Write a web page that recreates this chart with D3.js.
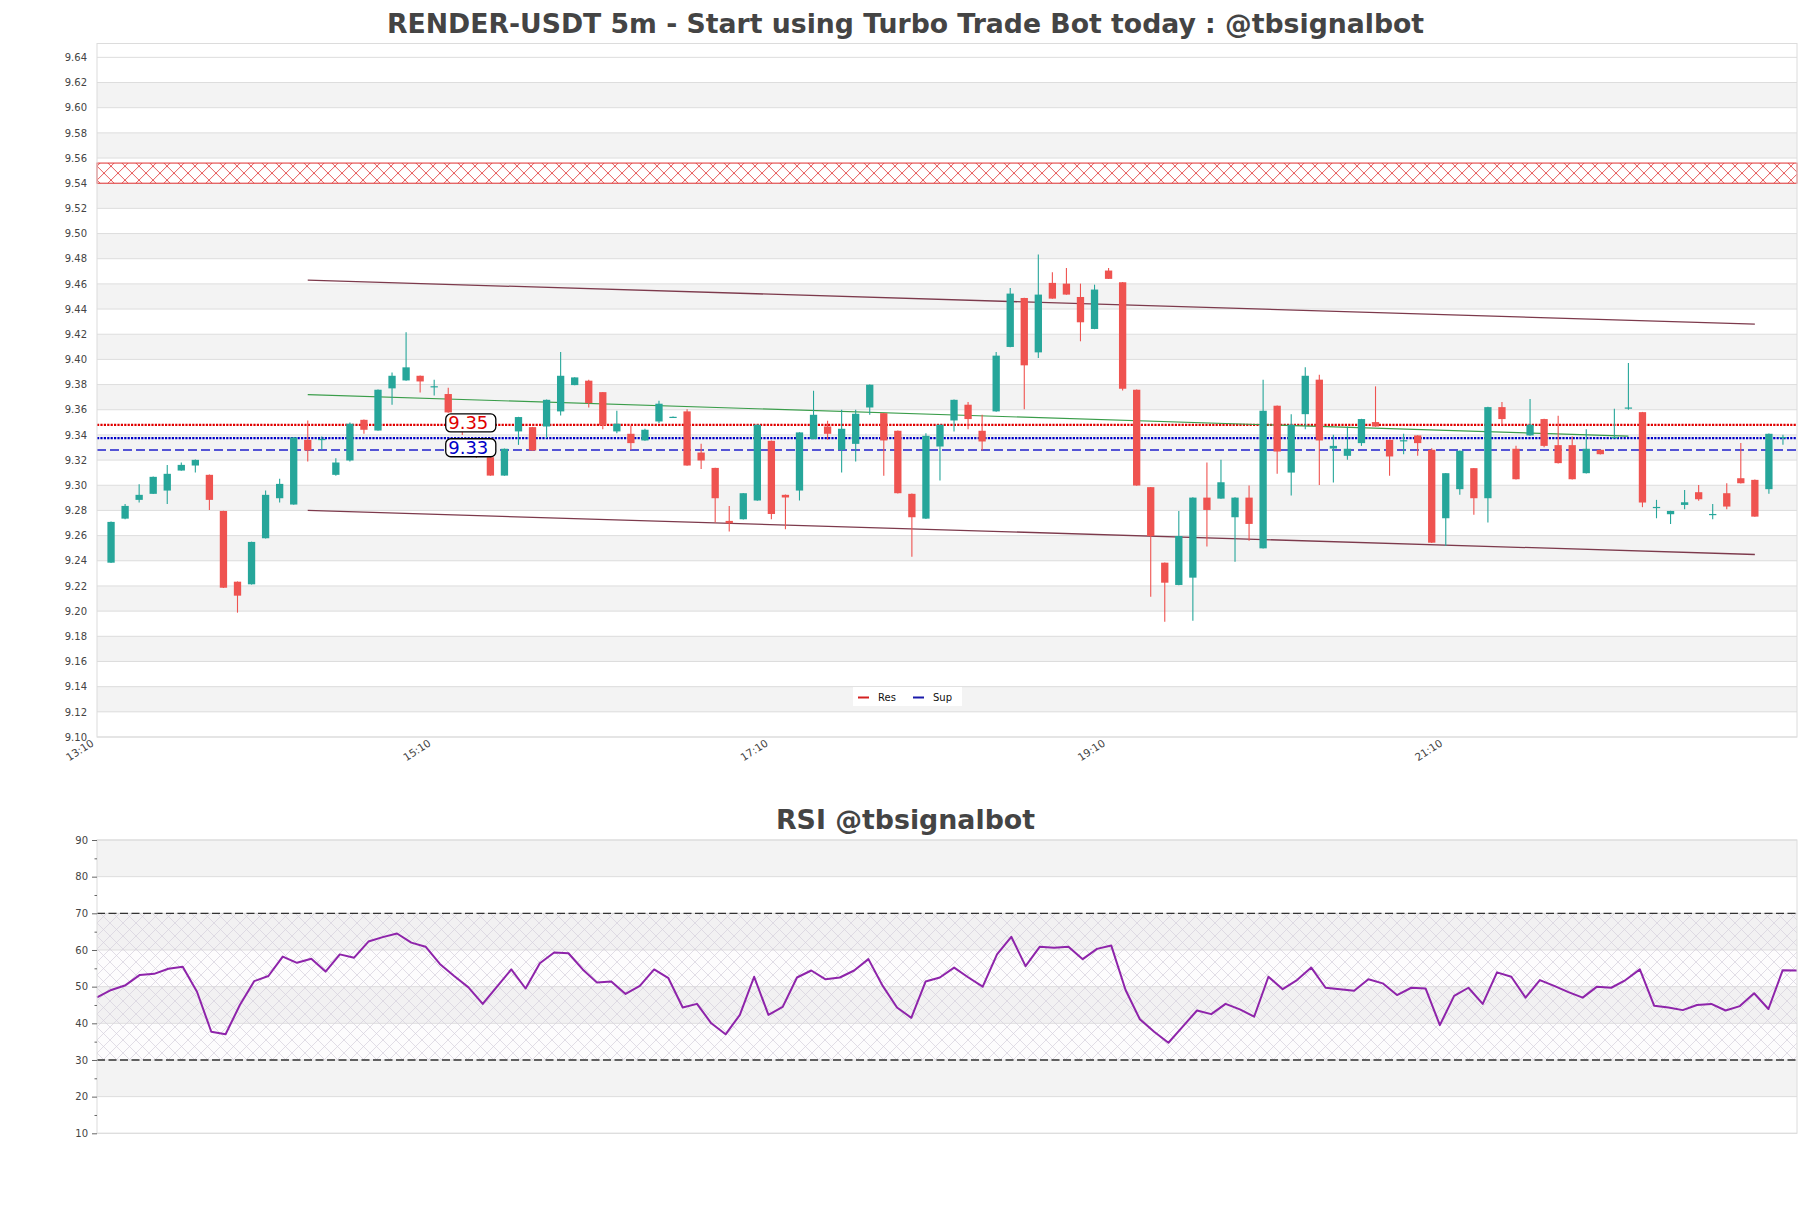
<!DOCTYPE html>
<html><head><meta charset="utf-8">
<script src="https://cdn.jsdelivr.net/npm/d3@7"></script>
<style>body{margin:0;background:#fff;} svg{display:block;font-family:"DejaVu Sans",sans-serif;}</style>
</head><body><svg id="c" width="1811" height="1208"></svg>
<script>
// ---------- DATA ----------
const opens = [9.2385,9.2735,9.2884,9.2932,9.2958,9.3117,9.3157,9.3083,9.2796,9.2234,
9.2213,9.2579,9.2897,9.2847,9.3361,9.3360,9.3083,9.3197,9.3520,9.3435,
9.3770,9.3833,9.3870,9.3780,9.3725,9.3500,9.3300,9.3223,9.3077,9.3428,
9.3462,9.3467,9.3587,9.3796,9.3831,9.3740,9.3428,9.3409,9.3356,9.3507,
9.3541,9.3587,9.3260,9.3138,9.2717,9.2730,9.2879,9.3353,9.2924,9.2958,
9.3367,9.3467,9.3282,9.3329,9.3618,9.3573,9.3433,9.2932,9.2735,9.3308,
9.3515,9.3640,9.3433,9.3587,9.4099,9.4488,9.4056,9.4608,9.4602,9.4496,
9.4242,9.4706,9.4613,9.3759,9.2985,9.2385,9.2208,9.2266,9.2902,9.2894,
9.2746,9.2902,9.2499,9.3632,9.3101,9.3565,9.3839,9.3292,9.3234,9.3335,
9.3502,9.3361,9.3353,9.3396,9.3282,9.2738,9.2969,9.3136,9.2897,9.3621,
9.3290,9.3396,9.3526,9.3319,9.3319,9.3096,9.3282,9.3378,9.3614,9.3581,
9.2822,9.2770,9.2844,9.2945,9.2767,9.2937,9.3056,9.3043,9.2969,9.3378];
const highs = [9.2712,9.2852,9.3009,9.3070,9.3162,9.3181,9.3204,9.3085,9.2798,9.2236,
9.2552,9.2958,9.3051,9.3382,9.3515,9.3388,9.3215,9.3499,9.3522,9.3761,
9.3897,9.4215,9.3872,9.3839,9.3775,9.3540,9.3330,9.3225,9.3292,9.3544,
9.3464,9.3681,9.4059,9.3859,9.3839,9.3742,9.3592,9.3473,9.3449,9.3672,
9.3546,9.3605,9.3329,9.3140,9.2836,9.2939,9.3483,9.3355,9.2926,9.3422,
9.3751,9.3512,9.3600,9.3600,9.3801,9.3575,9.3435,9.2934,9.3414,9.3483,
9.3681,9.3661,9.3560,9.4059,9.4568,9.4490,9.4833,9.4693,9.4727,9.4602,
9.4594,9.4727,9.4615,9.3761,9.2987,9.2387,9.2796,9.2904,9.3181,9.3202,
9.2904,9.2998,9.3839,9.3634,9.3565,9.3937,9.3878,9.3401,9.3467,9.3528,
9.3786,9.3363,9.3409,9.3398,9.3295,9.3098,9.3276,9.3138,9.3623,9.3661,
9.3314,9.3685,9.3528,9.3552,9.3388,9.3446,9.3284,9.3608,9.3971,9.3583,
9.2884,9.2798,9.2963,9.3003,9.2852,9.3016,9.3335,9.3045,9.3411,9.3401];
const lows = [9.2383,9.2730,9.2863,9.2930,9.2852,9.3115,9.3101,9.2804,9.2184,9.1988,
9.2211,9.2577,9.2863,9.2845,9.3189,9.3283,9.3075,9.3189,9.3409,9.3433,
9.3640,9.3831,9.3738,9.3714,9.3577,9.3400,9.3216,9.3075,9.3075,9.3321,
9.3274,9.3374,9.3555,9.3794,9.3618,9.3446,9.3414,9.3282,9.3354,9.3494,
9.3539,9.3155,9.3130,9.2704,9.2632,9.2728,9.2877,9.2730,9.2651,9.2879,
9.3365,9.3361,9.3101,9.3189,9.3560,9.3075,9.2935,9.2433,9.2733,9.3038,
9.3428,9.3446,9.3276,9.3585,9.4097,9.3605,9.4011,9.4481,9.4513,9.4144,
9.4240,9.4638,9.3754,9.2996,9.2115,9.1916,9.2206,9.1924,9.2513,9.2892,
9.2393,9.2560,9.2497,9.3091,9.2918,9.3446,9.3003,9.3022,9.3202,9.3313,
9.3465,9.3075,9.3247,9.3234,9.2542,9.2518,9.2924,9.2765,9.2704,9.3481,
9.3046,9.3394,9.3303,9.3174,9.3046,9.3094,9.3245,9.3375,9.3600,9.2826,
9.2738,9.2693,9.2810,9.2878,9.2730,9.2810,9.3014,9.2749,9.2932,9.3321];
const closes = [9.2709,9.2836,9.2924,9.3067,9.3091,9.3162,9.3202,9.2884,9.2186,9.2123,
9.2550,9.2924,9.3011,9.3380,9.3276,9.3368,9.3181,9.3489,9.3441,9.3759,
9.3870,9.3937,9.3825,9.3787,9.3579,9.3440,9.3260,9.3077,9.3290,9.3542,
9.3276,9.3679,9.3870,9.3857,9.3653,9.3475,9.3489,9.3335,9.3441,9.3648,
9.3544,9.3157,9.3197,9.2897,9.2698,9.2937,9.3481,9.2772,9.2903,9.3420,
9.3560,9.3409,9.3449,9.3568,9.3799,9.3356,9.2937,9.2746,9.3393,9.3481,
9.3679,9.3526,9.3348,9.4030,9.4523,9.3953,9.4515,9.4483,9.4515,9.4295,
9.4555,9.4640,9.3767,9.2998,9.2597,9.2226,9.2597,9.2902,9.2804,9.3024,
9.2902,9.2693,9.3592,9.3268,9.3481,9.3870,9.3356,9.3313,9.3290,9.3526,
9.3467,9.3229,9.3358,9.3335,9.2544,9.3096,9.3274,9.2897,9.3621,9.3526,
9.3048,9.3481,9.3313,9.3176,9.3048,9.3290,9.3247,9.3383,9.3618,9.2863,
9.2828,9.2796,9.2865,9.2889,9.2772,9.2831,9.3016,9.2751,9.3409,9.3383];
const rsiValues = [47.1,49.1,50.4,53.2,53.5,54.9,55.4,48.6,37.7,37.0,
45.0,51.5,52.9,58.2,56.5,57.6,54.1,58.8,57.9,62.3,
63.5,64.5,62.0,60.9,56.2,52.9,49.8,45.3,50.0,54.7,
49.5,56.4,59.3,59.1,54.7,51.1,51.4,48.0,50.2,54.7,
52.3,44.3,45.3,40.0,37.0,42.3,52.7,42.3,44.5,52.5,
54.4,52.0,52.5,54.4,57.5,50.2,44.3,41.5,51.4,52.5,
55.2,52.5,50.0,58.8,63.6,55.6,60.9,60.6,60.9,57.5,
60.3,61.2,49.1,41.1,37.7,34.7,39.1,43.5,42.5,45.3,
43.8,41.8,52.7,49.3,51.8,55.2,49.7,49.3,48.9,52.0,
50.9,47.7,49.7,49.5,39.5,47.5,49.7,45.3,53.9,52.7,
47.0,51.8,50.2,48.5,47.0,50.0,49.7,51.8,54.7,44.8,
44.3,43.6,45.0,45.3,43.5,44.7,48.2,43.9,54.5,54.4];
const timeTickIndex = [-1,23,47,71,95];
const timeTickLabels = ["13:10","15:10","17:10","19:10","21:10"];
const priceTicks = [9.10,9.12,9.14,9.16,9.18,9.20,9.22,9.24,9.26,9.28,9.30,9.32,9.34,9.36,9.38,9.40,9.42,9.44,9.46,9.48,9.50,9.52,9.54,9.56,9.58,9.60,9.62,9.64];
const rsiTicks = [10,20,30,40,50,60,70,80,90];
const rsiMinorTicks = [15,25,35,45,55,65,75,85];
const resZone = [9.540, 9.556];
const resLevel = 9.348, supLevel = 9.3375, lastLevel = 9.328;
const resLabelText = "9.35", supLabelText = "9.33";
const labelIndex = 24;
const channelUpper = [[14,9.463],[117,9.428]];
const channelLower = [[14,9.280],[117,9.245]];
const trendLine = [[14,9.372],[108,9.339]];
const rsiBands = [30,70];
const titleMain = "RENDER-USDT 5m - Start using Turbo Trade Bot today : @tbsignalbot";
const titleRsi = "RSI @tbsignalbot";

// ---------- LAYOUT ----------
const svg = d3.select("#c");
const M = {l:97, r:1797, t:43.5, b:737};
const R = {l:97, r:1797, t:840, b:1133.3};
const x = d3.scaleLinear().domain([-1,120]).range([M.l,M.r]);
const y = d3.scaleLinear().domain([9.10,9.651]).range([M.b,M.t]);
const rx = d3.scaleLinear().domain([0,rsiValues.length-1]).range([R.l,R.r]);
const ry = d3.scaleLinear().domain([10,90]).range([R.b,R.t]);
const GREEN="#26a69a", RED="#ef5350";

const defs = svg.append("defs");
const hp = defs.append("pattern").attr("id","hatchRed").attr("patternUnits","userSpaceOnUse")
  .attr("width",14).attr("height",14)
  .attr("patternTransform",`translate(${M.l},${y((resZone[0]+resZone[1])/2)-7})`);
hp.append("path").attr("d","M0,0L14,14M14,0L0,14").attr("stroke","#e03030").attr("stroke-width",0.8).attr("fill","none");
const hq = defs.append("pattern").attr("id","hatchRsi").attr("patternUnits","userSpaceOnUse")
  .attr("width",13).attr("height",13).attr("patternTransform",`translate(${R.l},0)`);
hq.append("path").attr("d","M0,0L13,13M13,0L0,13").attr("stroke","#d6d0dc").attr("stroke-width",0.7).attr("fill","none");
defs.append("clipPath").attr("id","clipM").append("rect").attr("x",M.l).attr("y",M.t).attr("width",M.r-M.l).attr("height",M.b-M.t);

// ---------- MAIN CHART ----------
const gM = svg.append("g");
gM.append("rect").attr("x",M.l).attr("y",M.t).attr("width",M.r-M.l).attr("height",M.b-M.t).attr("fill","#fff");
gM.selectAll("rect.band").data(priceTicks.filter((d,i)=>i%2===1 && i+1<priceTicks.length)).join("rect")
  .attr("class","band").attr("x",M.l).attr("width",M.r-M.l)
  .attr("y",d=>y(d+0.02)).attr("height",d=>y(d)-y(d+0.02)).attr("fill","#f3f3f3");
gM.selectAll("line.grid").data(priceTicks).join("line").attr("class","grid")
  .attr("x1",M.l).attr("x2",M.r).attr("y1",d=>y(d)).attr("y2",d=>y(d)).attr("stroke","#dddddd").attr("stroke-width",1);

// resistance zone
gM.append("rect").attr("x",M.l).attr("width",M.r-M.l).attr("y",y(resZone[1])).attr("height",y(resZone[0])-y(resZone[1]))
  .attr("fill","#fff");
gM.append("rect").attr("x",M.l).attr("width",M.r-M.l).attr("y",y(resZone[1])).attr("height",y(resZone[0])-y(resZone[1]))
  .attr("fill","url(#hatchRed)").attr("stroke","#e03030").attr("stroke-width",1);

// level lines
gM.append("line").attr("x1",M.l).attr("x2",M.r).attr("y1",y(lastLevel)).attr("y2",y(lastLevel))
  .attr("stroke","#2020cc").attr("stroke-width",1.4).attr("stroke-dasharray","9,4");
gM.append("line").attr("x1",M.l).attr("x2",M.r).attr("y1",y(resLevel)).attr("y2",y(resLevel))
  .attr("stroke","#e00000").attr("stroke-width",2.3).attr("stroke-dasharray","2.2,1.2");
gM.append("line").attr("x1",M.l).attr("x2",M.r).attr("y1",y(supLevel)).attr("y2",y(supLevel))
  .attr("stroke","#0000c8").attr("stroke-width",2.3).attr("stroke-dasharray","2.2,1.2");

// trend lines
const seg = (pts,col,w)=>gM.append("line").attr("x1",x(pts[0][0])).attr("y1",y(pts[0][1]))
  .attr("x2",x(pts[1][0])).attr("y2",y(pts[1][1])).attr("stroke",col).attr("stroke-width",w);
seg(channelUpper,"#7d3a4c",1.3);
seg(channelLower,"#7d3a4c",1.3);
seg(trendLine,"#3a9d4a",1.2);

// candles
const idx = d3.range(opens.length);
const bw = (x(1)-x(0))*0.52;
const gc = gM.append("g").attr("clip-path","url(#clipM)");
gc.selectAll("line.wick").data(idx).join("line").attr("class","wick")
  .attr("x1",i=>x(i)).attr("x2",i=>x(i)).attr("y1",i=>y(highs[i])).attr("y2",i=>y(lows[i]))
  .attr("stroke",i=>closes[i]>=opens[i]?GREEN:RED).attr("stroke-width",1.1);
gc.selectAll("rect.body").data(idx).join("rect").attr("class","body")
  .attr("x",i=>x(i)-bw/2).attr("width",bw)
  .attr("y",i=>y(Math.max(opens[i],closes[i])))
  .attr("height",i=>Math.max(1.2,Math.abs(y(opens[i])-y(closes[i]))))
  .attr("fill",i=>closes[i]>=opens[i]?GREEN:RED);

// labels
function boxLabel(txt,val,col){
  const g = gM.append("g");
  const t = g.append("text").attr("x",x(labelIndex)).attr("y",y(val)).attr("dy","0.36em")
    .attr("font-size",18).attr("fill",col).text(txt);
  const bb = t.node().getBBox();
  g.insert("rect","text").attr("x",bb.x-2.5).attr("y",y(val)-9).attr("width",bb.width+10).attr("height",18)
    .attr("rx",5).attr("fill","#fff").attr("stroke","#000").attr("stroke-width",1.3);
}
boxLabel(resLabelText,resLevel+0.0015,"#e00000");
boxLabel(supLabelText,lastLevel+0.0018,"#0000c8");

// legend
const lg = gM.append("g");
lg.append("rect").attr("x",853).attr("y",687).attr("width",109).attr("height",19).attr("fill","#fff");
[["Res","#d42020",858],["Sup","#1a1aaa",913]].forEach(([t,c,px])=>{
  lg.append("line").attr("x1",px).attr("x2",px+11).attr("y1",697.5).attr("y2",697.5).attr("stroke",c).attr("stroke-width",2);
  lg.append("text").attr("x",px+20).attr("y",701).attr("font-size",10).attr("fill","#111").text(t);
});

// border
gM.append("rect").attr("x",M.l).attr("y",M.t).attr("width",M.r-M.l).attr("height",M.b-M.t)
  .attr("fill","none").attr("stroke","#dcdcdc").attr("stroke-width",1);

// axes
const ay = svg.append("g").attr("transform",`translate(${M.l},0)`)
  .call(d3.axisLeft(y).tickValues(priceTicks).tickFormat(d3.format(".2f")).tickSize(0).tickPadding(10));
ay.select(".domain").remove();
ay.selectAll("text").attr("font-size",10).attr("fill","#444").attr("font-family","DejaVu Sans");

const ax = svg.append("g").attr("transform",`translate(0,${M.b})`)
  .call(d3.axisBottom(x).tickValues(timeTickIndex).tickFormat((d,i)=>timeTickLabels[i]).tickSize(0));
ax.select(".domain").remove();
ax.selectAll("text").attr("font-size",10.5).attr("fill","#444").attr("font-family","DejaVu Sans")
  .attr("text-anchor","end").attr("y",0).attr("dy",0)
  .attr("transform","translate(-3,8) rotate(-33)");

// titles
svg.append("text").attr("x",905.5).attr("y",32.5).attr("text-anchor","middle")
  .attr("font-size",26.7).attr("font-weight","bold").attr("fill","#444").text(titleMain);
svg.append("text").attr("x",905.5).attr("y",828.5).attr("text-anchor","middle")
  .attr("font-size",26.8).attr("font-weight","bold").attr("fill","#444").text(titleRsi);

// ---------- RSI CHART ----------
const gR = svg.append("g");
gR.append("rect").attr("x",R.l).attr("y",R.t).attr("width",R.r-R.l).attr("height",R.b-R.t).attr("fill","#fff");
gR.selectAll("rect.band").data(rsiTicks.filter((d,i)=>i%2===1 && i+1<rsiTicks.length)).join("rect")
  .attr("class","band").attr("x",R.l).attr("width",R.r-R.l)
  .attr("y",d=>ry(d+10)).attr("height",d=>ry(d)-ry(d+10)).attr("fill","#f3f3f3");
gR.selectAll("line.grid").data(rsiTicks).join("line").attr("class","grid")
  .attr("x1",R.l).attr("x2",R.r).attr("y1",d=>ry(d)).attr("y2",d=>ry(d)).attr("stroke","#dddddd");
gR.append("rect").attr("x",R.l).attr("width",R.r-R.l).attr("y",ry(rsiBands[1])).attr("height",ry(rsiBands[0])-ry(rsiBands[1]))
  .attr("fill","#ece6f2").attr("fill-opacity",0.12);
gR.append("rect").attr("x",R.l).attr("width",R.r-R.l).attr("y",ry(rsiBands[1])).attr("height",ry(rsiBands[0])-ry(rsiBands[1]))
  .attr("fill","url(#hatchRsi)");
rsiBands.forEach(v=>gR.append("line").attr("x1",R.l).attr("x2",R.r).attr("y1",ry(v)).attr("y2",ry(v))
  .attr("stroke","#333").attr("stroke-width",1.4).attr("stroke-dasharray","8,3.5"));
gR.append("path").datum(rsiValues).attr("fill","none").attr("stroke","#8e24aa").attr("stroke-width",2)
  .attr("stroke-linejoin","round")
  .attr("d",d3.line().x((d,i)=>rx(i)).y(d=>ry(d)));
gR.append("rect").attr("x",R.l).attr("y",R.t).attr("width",R.r-R.l).attr("height",R.b-R.t)
  .attr("fill","none").attr("stroke","#dcdcdc");
const ar = svg.append("g").attr("transform",`translate(${R.l},0)`)
  .call(d3.axisLeft(ry).tickValues(rsiTicks).tickFormat(d3.format("d")).tickSize(5).tickPadding(4));
ar.select(".domain").remove();
ar.selectAll("line").attr("stroke","#666");
ar.selectAll("text").attr("font-size",10).attr("fill","#444").attr("font-family","DejaVu Sans");
const arm = svg.append("g").attr("transform",`translate(${R.l},0)`)
  .call(d3.axisLeft(ry).tickValues(rsiMinorTicks).tickFormat("").tickSize(2.5));
arm.select(".domain").remove();
arm.selectAll("line").attr("stroke","#666");
</script></body></html>
